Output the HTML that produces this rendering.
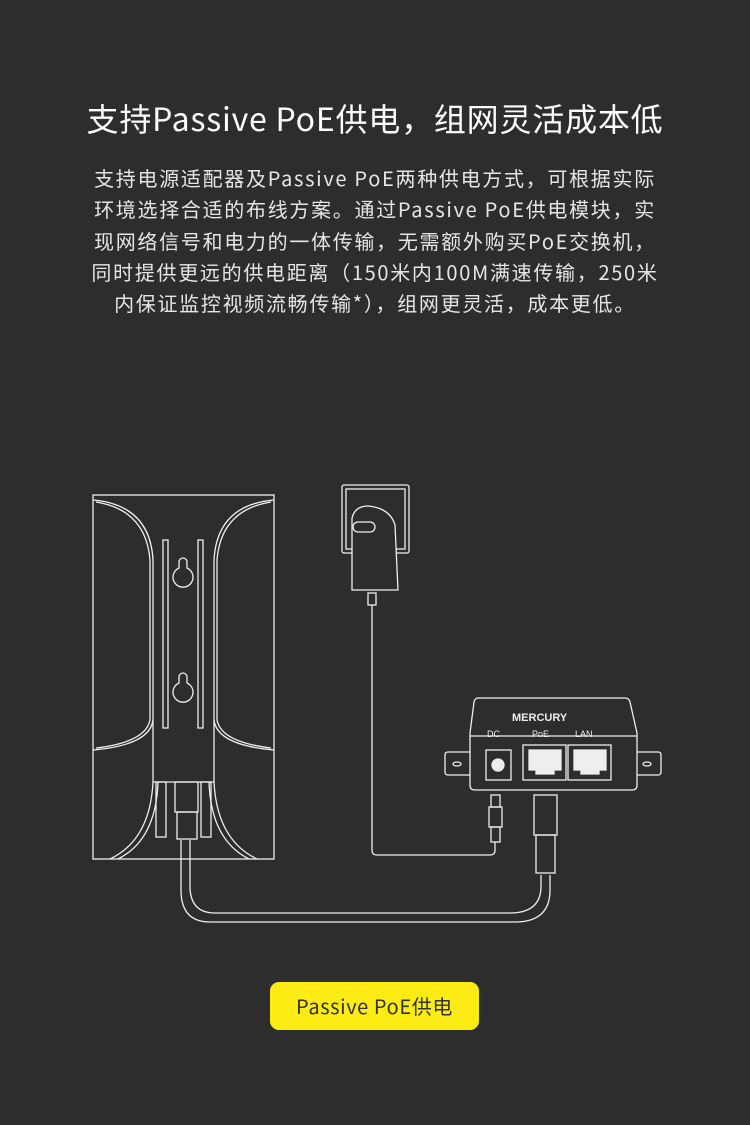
<!DOCTYPE html>
<html><head><meta charset="utf-8"><style>
body{margin:0;width:750px;height:1125px;background:#2d2d2d;overflow:hidden;position:relative;font-family:"Liberation Sans","Noto Sans CJK SC",sans-serif;}
.t{position:absolute;left:0;width:750px;text-align:center;color:#fff;font-family:"Noto Sans CJK SC","Liberation Sans",sans-serif;}
h1{position:absolute;top:95px;left:0;width:750px;margin:0;text-align:center;color:#fff;font-weight:400;font-size:32px;letter-spacing:0.8px;font-family:"Noto Sans CJK SC",sans-serif;line-height:46px}
.p{top:162px;font-size:20px;letter-spacing:1.7px;line-height:31.3px;color:#e6e6e6;}
.btn{position:absolute;left:270px;top:982px;width:209px;height:48px;background:#fdec13;border-radius:9px;color:#333;font-size:20px;letter-spacing:0.6px;text-align:center;line-height:48px;font-family:"Noto Sans CJK SC",sans-serif;}
</style></head><body>
<h1>支持Passive PoE供电，组网灵活成本低</h1>
<div class="t p">支持电源适配器及Passive PoE两种供电方式，可根据实际<br>环境选择合适的布线方案。通过Passive PoE供电模块，实<br>现网络信号和电力的一体传输，无需额外购买PoE交换机，<br>同时提供更远的供电距离（150米内100M满速传输，250米<br>内保证监控视频流畅传输*），组网更灵活，成本更低。</div>
<svg width="750" height="1125" style="position:absolute;left:0;top:0" fill="none" stroke="#eee" stroke-width="1.3">
<rect x="93" y="495" width="181" height="364"/>
<path d="M93 500 Q150 505 153 560 L153 720 Q150 745 93 750"/>
<path d="M96 502 Q146 510 150 560 L150 720 Q146 742 96 748"/>
<path d="M274 500 Q217 505 214 560 L214 720 Q217 745 274 750"/>
<path d="M271 502 Q221 510 217 560 L217 720 Q221 742 271 748"/>
<path d="M153 782 V720 M214 782 V720"/>
<path d="M153 782 H214"/>
<path d="M153 782 Q150 840 110 859 M158 782 Q156 840 118 859"/>
<path d="M214 782 Q217 840 257 859 M209 782 Q211 840 249 859"/>
<rect x="163" y="540" width="5" height="188"/>
<rect x="198" y="540" width="5" height="188"/>
<path d="M179 568 a10 10 0 1 0 8 0 v-6 a4 4 0 0 0 -8 0z"/>
<path d="M179 683 a10 10 0 1 0 8 0 v-6 a4 4 0 0 0 -8 0z"/>
<rect x="156" y="782" width="10" height="55"/><rect x="201" y="782" width="10" height="55"/>
<rect x="175" y="782" width="23" height="30"/><rect x="177" y="812" width="20" height="27"/>
<path d="M181 840 V890 Q181 922 210 922 H515 Q550 922 550 890 V875"/>
<path d="M190 840 V886 Q190 913 215 913 H510 Q541 913 541 886 V875"/>
<rect x="342" y="485" width="67" height="68" rx="2"/><rect x="346" y="489" width="59" height="60"/>
<path d="M352 518 Q355 506 368 506 Q390 508 395 525 L398 590 H352 Z" fill="#2d2d2d"/>
<rect x="353" y="522" width="22" height="10" rx="5"/>
<rect x="368" y="593" width="8" height="12"/>
<path d="M372 605 V850 Q372 855 377 855 H490 Q495 855 495 850 V842"/>
<rect x="491" y="795" width="9" height="12"/><rect x="489" y="807" width="13" height="20"/><rect x="491" y="827" width="9" height="15"/>
<path d="M478 698 H625 Q629 698 630 702 L637 733 V785 Q637 790 632 790 H475 Q470 790 470 785 V733 L474 702 Q475 698 478 698Z"/>
<path d="M470 736 H637"/>
<path d="M470 752 H448 Q445 752 445 755 V772 Q445 775 448 775 H470 M637 752 H658 Q661 752 661 755 V772 Q661 775 658 775 H637"/>
<ellipse cx="457" cy="764" rx="4" ry="2"/><ellipse cx="647" cy="764" rx="4" ry="2"/>
<rect x="486" y="750" width="25" height="30"/><circle cx="498" cy="765" r="6" fill="#eee"/>
<rect x="523" y="745" width="43" height="35"/><rect x="568" y="745" width="43" height="35"/>
<path d="M529 750 H561 V770 H554 V774 H536 V770 H529Z M574 750 H606 V770 H599 V774 H581 V770 H574Z" fill="#eee"/>
<rect x="534" y="795" width="23" height="40"/><rect x="536" y="835" width="19" height="38"/>
<g fill="#eee" stroke="none" font-family="Liberation Sans,sans-serif">
<text x="512" y="721" font-size="11" font-weight="bold">MERCURY</text>
<text x="487" y="737" font-size="9">DC</text><text x="532" y="737" font-size="9">PoE</text><text x="575" y="737" font-size="9">LAN</text>
</g>
</svg>
<div class="btn">Passive PoE供电</div>
</body></html>
